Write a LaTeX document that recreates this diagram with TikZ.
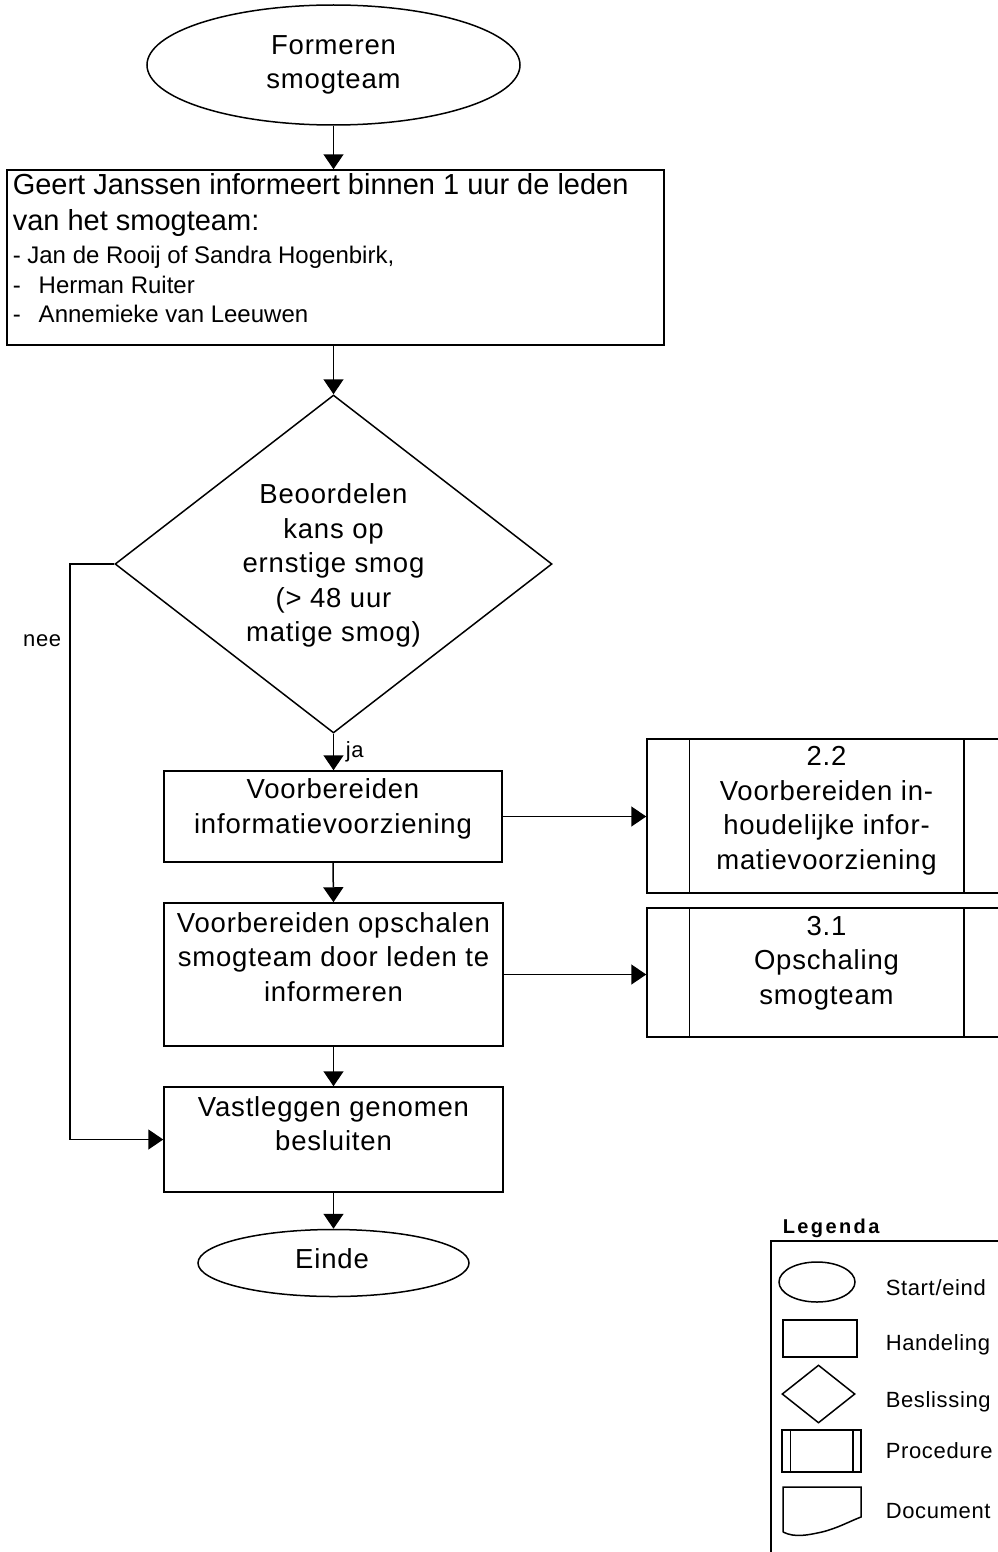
\documentclass[tikz,border=0pt]{standalone}
\usepackage{fontspec}
\setmainfont{Liberation Sans}
\newfontfamily\spacedfont[LetterSpace=3]{Liberation Sans}
\newfontfamily\smallspaced[LetterSpace=3]{Liberation Sans}
\newfontfamily\titlespaced[LetterSpace=12]{Liberation Sans}
\usetikzlibrary{shapes.geometric,arrows.meta}

\begin{document}
\begin{tikzpicture}[x=1pt,y=-1pt,line width=1.5pt,
  flow/.style={draw,-{Triangle[width=20pt,length=15pt]}},
  terminal/.style={draw,ellipse,inner sep=0pt},
  action/.style={draw,rectangle,inner sep=0pt},
  decision/.style={draw,diamond,inner sep=0pt},
  procbox/.style={draw,rectangle,inner sep=0pt},
  txt/.style={font={\spacedfont\fontsize{27.5}{34.5}\selectfont},align=center,inner sep=0pt},
  bigline/.style={font={\fontsize{29}{34}\selectfont},anchor=base west,inner sep=0pt},
  smallline/.style={font={\fontsize{24}{28}\selectfont},anchor=base west,inner sep=0pt},
  note/.style={font={\smallspaced\fontsize{22}{26}\selectfont},inner sep=0pt},
]
\useasboundingbox (0,0) rectangle (998,1552);
\clip (0,0) rectangle (998,1552);

% main flow shapes
\node[terminal,minimum width=373pt,minimum height=120pt,txt] (start) at (333.5,65) {Formeren\\smogteam};
\node[action,minimum width=657pt,minimum height=175pt] (inform) at (335.5,257.5) {};
\node[decision,minimum width=437pt,minimum height=338pt] (judge) at (333.5,564) {};
\node[action,minimum width=338pt,minimum height=91pt] (prepinfo) at (333,816.5) {};
\node[action,minimum width=339pt,minimum height=143pt] (prepscale) at (333.5,974.5) {};
\node[action,minimum width=339pt,minimum height=105pt] (record) at (333.5,1139.5) {};
\node[terminal,minimum width=271pt,minimum height=67pt] (stop) at (333.5,1263) {};
\node[procbox,minimum width=359pt,minimum height=154pt] (proca) at (826.5,816) {};
\node[procbox,minimum width=359pt,minimum height=129pt] (procb) at (826.5,972.5) {};
\foreach \p in {proca,procb}{
  \draw ([xshift=43pt]\p.north west) -- ([xshift=43pt]\p.south west);
  \draw ([xshift=-43pt]\p.north east) -- ([xshift=-43pt]\p.south east);
}

% texts
\node[bigline] (infoA) at (12,194) {Geert Janssen informeert binnen 1 uur de leden};
\node[bigline] (infoB) at (12,230) {van het smogteam:};
\node[smallline] (infoC) at (12,263) {- Jan de Rooij of Sandra Hogenbirk,};
\node[smallline] (infoD) at (12,293) {\makebox[26pt][l]{-}Herman Ruiter};
\node[smallline] (infoE) at (12,322) {\makebox[26pt][l]{-}Annemieke van Leeuwen};
\node[txt] (judgetxt) at (333.5,565.5) {Beoordelen\\kans op\\ernstige smog\\(> 48 uur\\matige smog)};
\node[txt] (prepinfotxt) at (333,809) {Voorbereiden\\informatievoorziening};
\node[txt] (prepscaletxt) at (333.5,957) {Voorbereiden opschalen\\smogteam door leden te\\informeren};
\node[txt] (recordtxt) at (333.5,1123.5) {Vastleggen genomen\\besluiten};
\node[txt,anchor=base] (stoptxt) at (332,1268) {Einde};
\node[txt] (procatxt) at (826.5,810.5) {2.2\\Voorbereiden in-\\houdelijke infor-\\matievoorziening};
\node[txt] (procbtxt) at (826.5,963) {3.1\\Opschaling\\smogteam};

% connectors
\draw[flow] (start.south) -- (start.south |- inform.north);
\draw[flow] (inform.south -| judge.north) -- (judge.north);
\draw[flow] (judge.south) -- (judge.south |- prepinfo.north);
\node[note,anchor=base west] (yes) at (345,757) {ja};
\draw[flow] (prepinfo.south) -- (prepscale.north);
\draw[flow] (prepscale.south) -- (record.north);
\draw[flow] (record.south) -- (stop.north);
\draw[flow] (prepinfo.east) -- (prepinfo.east -| proca.west);
\draw[flow] (prepscale.east) -- (prepscale.east -| procb.west);
\coordinate (nobend) at (70,564);
\draw[flow] (judge.west) -- (nobend) |- (record.west);
\node[note,anchor=base east] (no) at (62,646) {nee};

% legend
\node[font={\titlespaced\bfseries\fontsize{20}{24}\selectfont},anchor=base west,inner sep=0pt] (legtitle) at (782,1233) {Legenda};
\draw (771,1570) -- (771,1241) -- (1010,1241);
\node[terminal,minimum width=76pt,minimum height=40pt] (legA) at (817,1282) {};
\node[action,minimum width=74pt,minimum height=37pt] (legB) at (820,1338.5) {};
\node[decision,minimum width=73pt,minimum height=58pt] (legC) at (818.5,1394) {};
\node[procbox,minimum width=79pt,minimum height=42pt] (legD) at (821.5,1451) {};
\draw ([xshift=9pt]legD.north west) -- ([xshift=9pt]legD.south west);
\draw ([xshift=-9pt]legD.north east) -- ([xshift=-9pt]legD.south east);
\draw (783,1532) -- (783,1487) -- (861,1487) -- (861,1517)
  .. controls (848,1522) and (838,1528) .. (822,1532)
  .. controls (808,1535) and (795,1538) .. (783,1532);
\node[note,anchor=base west] (legAtxt) at (885,1295) {Start/eind};
\node[note,anchor=base west] (legBtxt) at (885,1350) {Handeling};
\node[note,anchor=base west] (legCtxt) at (885,1407) {Beslissing};
\node[note,anchor=base west] (legDtxt) at (885,1458) {Procedure};
\node[note,anchor=base west] (legEtxt) at (885,1518) {Document};
\end{tikzpicture}
\end{document}
